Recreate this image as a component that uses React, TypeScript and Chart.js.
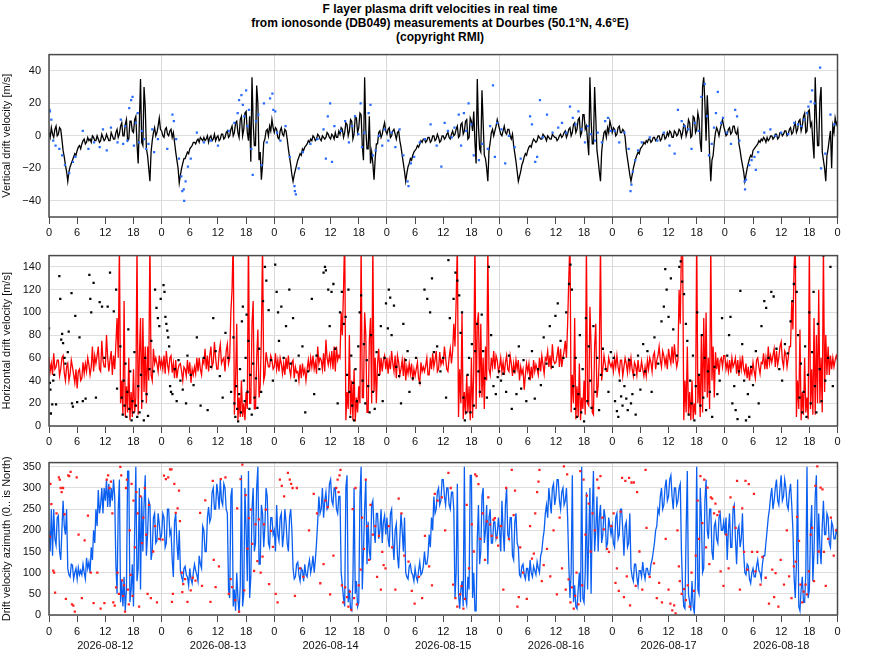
import * as React from 'react';
import {useRef, useEffect} from 'react';
import {Chart, registerables} from 'chart.js';

Chart.register(...registerables);

const DATES = ['2026-08-12', '2026-08-13', '2026-08-14', '2026-08-15', '2026-08-16', '2026-08-17', '2026-08-18'];
// line values are one sample every quarter hour, starting at 00:00 of each day
const STEP_H = 0.25;

const VERT_TICKS = [-40, -20, 0, 20, 40];
const HORIZ_TICKS = [0, 20, 40, 60, 80, 100, 120, 140];
const AZIM_TICKS = [0, 50, 100, 150, 200, 250, 300, 350];

// vertical drift velocity [m/s]
const vertLine12 = [
  2, -1, 5, 1, -1, 4, 6, 0, 1, 5, 4, -2, -9, -13, -18, -22, -28, -22, -19, -17, -15, -13, -11, -12,
  -9, -7, -6, -8, -5, -3, -2, -5, -4, -1, -3, -2, -4, 0, -1, -3, -3, 0, -2, -4, -3, 1, -1, -3,
  -2, 1, -1, -3, -3, 2, 0, -2, -2, 2, 4, -1, 1, 6, 8, 0, 0, 7, 10, -3, -2, 9, 9, 3,
  2, 10, 12, -5, -17, 8, 35, -4, -6, 30, 18, -8, -12, -20, -28, -10, -3, 2, 5, 0, 2, 6, 11, 4,
];
const vertLine13 = [
  3, 0, -1, 4, 5, 1, 0, 3, 4, -1, 2, -4, -10, -15, -20, -29, -24, -20, -17, -14, -14, -12, -10, -11,
  -8, -7, -6, -4, -4, -5, -3, -2, -4, -1, -2, -3, -1, -3, -2, 0, -4, -1, 0, -3, -2, 1, -3, -1,
  0, -3, -2, 1, 1, -2, -1, 2, 3, -1, 0, 4, 6, 0, 2, 8, 9, 2, -1, 10, 12, 0, 4, 14,
  15, 2, -3, 12, -16, 36, 8, -6, -6, 31, 20, -15, -10, -27, -18, -4, -2, 3, 4, 0, 6, 3, 10, 5,
];
const vertLine14 = [
  2, 5, 4, -1, -2, 3, 5, 1, 0, 4, 3, -2, -8, -13, -18, -24, -28, -24, -21, -18, -15, -13, -11, -12,
  -8, -9, -7, -6, -5, -3, -4, -2, -3, 0, -1, -3, -2, 1, 0, -2, -3, 0, -1, -2, -1, 2, 1, -1,
  -2, 1, 0, -2, 2, -1, -1, 3, 1, 5, 4, -1, 2, 8, 7, 0, 3, 10, 9, -2, 1, 12, 11, 2,
  5, 14, 13, -6, -15, 36, 4, -8, -8, 12, -17, -10, -17, -27, -14, -5, -5, 2, 3, -1, 1, 5, 8, 3,
];
const vertLine15 = [
  1, 4, 5, -1, 0, 3, 4, 1, -2, 2, 3, -3, -7, -12, -17, -22, -28, -23, -19, -17, -14, -15, -12, -10,
  -9, -8, -6, -7, -5, -3, -4, -2, -2, -4, -3, -1, -1, -4, -3, 0, 0, -3, -2, 1, -1, -4, -3, 0,
  0, -2, -1, 1, 2, -1, -2, 1, 3, 0, 1, 4, 6, -1, 0, 7, 8, 1, 3, 9, 10, -2, -1, 11,
  9, 3, 15, -4, -17, 35, 6, -8, -10, 28, 8, -12, -14, -20, -28, -9, -4, 2, 4, 0, 3, 6, 10, 7,
];
const vertLine16 = [
  4, 1, 0, 3, 6, 2, 1, 4, 4, 0, -2, 1, -6, -11, -16, -22, -28, -25, -22, -18, -16, -13, -11, -12,
  -9, -7, -6, -7, -4, -2, -3, -4, -3, 0, -1, -2, -2, 1, 0, -1, -3, 0, -1, -2, -2, 1, 0, -1,
  -1, -3, -2, 0, 1, -1, 0, 2, 3, -1, 1, 4, 5, 0, 2, 7, 8, 2, 4, 10, 11, 0, 2, 13,
  13, 4, 6, -3, -12, 36, 10, -5, -5, 30, 11, -9, -15, -22, -28, -10, -3, 2, 3, -1, 5, 2, 9, 6,
];
const vertLine17 = [
  2, 5, 4, 0, 1, 5, 6, 2, 2, 4, 3, -1, -9, -14, -19, -24, -28, -24, -20, -17, -14, -12, -10, -11,
  -8, -7, -6, -4, -5, -3, -4, -2, -2, -4, -3, -1, -1, -3, -2, 0, 0, -3, -2, 1, 1, -2, -1, 2,
  0, 3, 2, -1, -1, 3, 2, 0, 1, 4, 3, -1, 2, 7, 6, 0, 3, 10, 8, -1, 0, 12, 11, 2,
  4, 14, 10, -4, -10, 30, 36, 20, -3, 25, 10, -12, -28, -15, -12, -4, 2, 5, 3, 0, 4, 7, 10, 6,
];
const vertLine18 = [
  3, 0, 1, 4, 5, 1, 2, 6, 6, 2, 1, 4, -5, -9, -14, -18, -22, -28, -24, -20, -17, -14, -12, -13,
  -9, -8, -7, -6, -5, -3, -4, -2, -3, -1, -2, -4, -1, -3, -2, 0, 0, -2, -1, 1, 1, -2, -1, 2,
  2, 0, 1, 3, 3, 0, 1, 4, 5, 1, 2, 6, 8, 2, 4, 9, 10, 3, 6, 12, 14, 2, 3, 15,
  16, 6, 8, -4, -14, 36, 12, -6, -6, 22, 30, -10, -15, -20, -28, -12, -8, -2, 3, -20, 6, 2, 11, 7,
  9,
];

// single measurements [hour of day, value]
const vertDots12 = [[0.1, 16], [0.2, 15], [0.5, 10], [0.9, -3], [1.4, -6], [2.2, -8], [2.8, -12], [3.4, -18], [4.3, -23], [5.1, -16], [5.6, -13], [7.2, 3], [8.4, -8], [9.6, -4], [10.8, -7], [11.5, 4], [12.3, -9], [13.2, 5], [14.6, -4], [15.3, 10], [15.8, -5], [16.2, 6], [16.7, -3], [17.1, 17], [17.5, 22], [17.8, 24], [18.1, -6], [18.5, 8], [18.9, 14], [19.2, -4], [19.8, 3], [20.3, -2], [20.7, -8], [21.2, -5], [22.0, 4], [22.4, -10], [23.2, -2]];
const vertDots13 = [[1.2, -8], [2.3, 13], [2.6, 9], [3.1, -2], [3.7, -14], [4.2, -25], [4.4, -34], [4.7, -33], [4.8, -40], [5.1, -28], [5.6, -19], [6.2, -14], [7.5, 2], [9.0, -4], [10.5, -3], [12.0, -6], [14.3, 3], [15.5, 8], [16.2, 14], [16.5, 22], [17.0, 25], [17.3, 19], [17.6, 12], [18.0, 28], [18.3, 6], [18.6, 16], [19.1, -8], [19.4, -24], [20.1, 9], [20.6, 13], [21.3, -18], [21.8, 20], [22.4, -4], [23.1, 23], [23.6, 26], [23.8, 16]];
const vertDots14 = [[0.2, 15], [0.6, 2], [1.3, -3], [2.4, 6], [3.3, -13], [4.3, -31], [4.4, -34], [4.6, -36], [5.2, -20], [6.1, -10], [7.7, -5], [9.2, -2], [10.5, 4], [11.0, -14], [11.4, 12], [11.9, 20], [12.3, -16], [12.8, 6], [14.2, 3], [15.1, 9], [15.9, -4], [16.6, 6], [17.2, 12], [17.9, 1], [18.4, 20], [18.7, -7], [19.2, 2], [20.1, 14], [20.5, 19], [21.0, -12], [21.6, -9], [22.3, 0], [23.0, -6], [23.5, 4]];
const vertDots15 = [[0.3, -3], [1.0, 2], [1.8, -7], [2.7, 4], [3.5, -12], [4.4, -28], [4.6, -31], [5.1, -17], [5.8, -13], [7.0, -4], [8.1, -2], [9.3, 7], [10.6, -6], [11.6, -19], [12.3, 8], [13.0, 3], [13.8, -1], [14.4, 5], [15.3, 13], [15.8, -6], [16.4, 14], [16.9, 3], [17.4, 20], [18.0, 7], [18.5, -12], [19.6, -15], [20.3, -5], [21.5, -8], [22.0, 6], [22.6, 31], [23.0, -13], [23.5, 8]];
const vertDots16 = [[0.4, 4], [1.2, -17], [2.0, 0], [3.2, -7], [4.5, -14], [6.5, 12], [6.9, 7], [7.6, -16], [8.0, -13], [8.6, 22], [9.2, -1], [10.1, 13], [11.3, 2], [12.5, 5], [13.3, 8], [14.2, 2], [15.0, 18], [15.6, 11], [16.2, 7], [16.8, 15], [17.5, 4], [18.2, -4], [18.8, 6], [19.4, 1], [20.3, -3], [20.9, 2], [21.8, -4], [22.5, 9], [23.1, 11], [23.7, 3]];
const vertDots17 = [[0.5, 3], [1.5, -4], [2.6, 2], [3.5, -8], [3.9, -34], [4.1, -30], [4.4, -22], [4.9, -15], [5.5, -9], [6.3, -4], [8.0, -1], [9.6, -3], [11.0, 2], [12.2, -6], [13.3, -11], [14.0, 16], [14.8, 9], [15.4, 6], [16.2, 4], [16.9, -8], [17.6, 8], [18.4, 3], [19.0, 24], [19.7, 32], [20.2, 12], [20.6, -12], [21.2, -5], [21.7, 5], [22.1, 14], [22.5, 27], [23.2, 8], [23.6, 11]];
const vertDots18 = [[0.4, 2], [1.3, -5], [2.2, 16], [2.6, 12], [3.1, -3], [4.2, -28], [4.3, -33], [4.5, -27], [5.2, -18], [5.7, -15], [6.3, -13], [6.6, -21], [7.1, -10], [8.4, 2], [9.7, 4], [10.8, 0], [12.0, 2], [13.5, 1], [14.8, 8], [15.6, 7], [16.3, 6], [16.9, 10], [17.5, 14], [17.8, 18], [18.3, 21], [18.6, 28], [19.1, 20], [20.3, 42], [20.5, -20], [21.4, -11], [22.5, 13], [23.3, 7]];

// horizontal drift velocity [m/s]
const horizLine12 = [
  60, 48, 55, 45, 64, 50, 52, 58, 58, 44, 50, 60, 62, 47, 40, 52, 55, 40, 46, 58, 52, 45, 38, 50,
  33, 48, 50, 40, 42, 56, 46, 55, 48, 60, 54, 45, 52, 70, 48, 62, 55, 62, 70, 50, 48, 75, 58, 52,
  52, 80, 60, 48, 58, 66, 45, 62, 50, 72, 95, 60, 160, 20, 40, 10, 110, 8, 35, 12, 60, 5, 30, 8,
  50, 12, 25, 160, 10, 60, 95, 15, 95, 30, 70, 20, 70, 40, 165, 45, 40, 68, 55, 60, 55, 48, 62, 52,
];
const horizLine13 = [
  58, 50, 62, 46, 66, 54, 48, 60, 62, 47, 55, 42, 58, 42, 50, 54, 55, 48, 40, 52, 50, 44, 58, 46,
  56, 38, 50, 45, 52, 46, 60, 48, 60, 50, 45, 58, 55, 68, 50, 62, 48, 62, 70, 52, 56, 74, 60, 50,
  50, 65, 72, 55, 58, 60, 48, 66, 72, 55, 60, 100, 120, 165, 10, 40, 90, 5, 25, 8, 40, 8, 20, 5,
  30, 15, 170, 20, 20, 90, 110, 15, 15, 60, 85, 25, 35, 80, 160, 40, 45, 65, 58, 52, 52, 62, 58, 50,
];
const horizLine14 = [
  52, 64, 50, 58, 48, 60, 55, 46, 55, 45, 60, 50, 62, 50, 44, 56, 58, 42, 52, 47, 48, 40, 54, 42,
  55, 46, 50, 40, 50, 58, 48, 60, 52, 62, 50, 56, 46, 70, 55, 60, 58, 50, 64, 48, 76, 60, 54, 62,
  54, 66, 50, 70, 48, 70, 58, 62, 60, 100, 80, 120, 170, 5, 30, 15, 80, 10, 40, 5, 50, 4, 25, 12,
  35, 20, 160, 25, 25, 100, 80, 12, 12, 75, 95, 20, 160, 30, 60, 20, 55, 68, 45, 60, 48, 58, 62, 50,
];
const horizLine15 = [
  60, 46, 58, 50, 66, 55, 48, 62, 42, 62, 56, 45, 50, 58, 44, 60, 40, 52, 46, 55, 46, 55, 40, 50,
  44, 50, 56, 42, 38, 56, 48, 52, 48, 53, 60, 45, 45, 60, 50, 64, 52, 58, 66, 48, 50, 65, 54, 58,
  55, 70, 60, 50, 48, 60, 68, 55, 66, 90, 70, 110, 160, 8, 50, 20, 100, 6, 30, 10, 45, 12, 35, 5,
  60, 7, 50, 165, 15, 90, 100, 25, 90, 25, 60, 15, 70, 40, 160, 50, 45, 60, 52, 66, 50, 62, 58, 48,
];
const horizLine16 = [
  52, 60, 48, 56, 45, 56, 62, 50, 48, 62, 55, 44, 55, 46, 58, 50, 58, 40, 52, 46, 50, 32, 45, 55,
  48, 55, 40, 52, 42, 58, 48, 54, 50, 45, 60, 48, 62, 54, 46, 60, 58, 66, 52, 62, 50, 72, 58, 55,
  56, 62, 70, 52, 68, 52, 60, 66, 75, 60, 90, 130, 165, 12, 45, 20, 95, 6, 35, 8, 55, 5, 25, 15,
  40, 10, 160, 20, 18, 105, 70, 12, 10, 70, 90, 25, 35, 60, 160, 40, 50, 62, 55, 48, 48, 60, 55, 52,
];
const horizLine17 = [
  56, 48, 60, 52, 62, 52, 46, 58, 58, 44, 52, 60, 55, 47, 60, 50, 60, 50, 44, 56, 53, 45, 58, 48,
  48, 57, 50, 44, 52, 44, 58, 50, 60, 56, 48, 62, 65, 50, 58, 62, 70, 58, 52, 66, 62, 54, 60, 50,
  68, 60, 55, 70, 55, 72, 60, 52, 58, 120, 90, 160, 160, 5, 40, 12, 70, 10, 30, 5, 40, 6, 20, 10,
  170, 20, 45, 8, 80, 12, 95, 30, 100, 25, 60, 15, 160, 40, 70, 25, 65, 50, 60, 45, 58, 60, 52, 62,
];
const horizLine18 = [
  62, 50, 56, 48, 58, 47, 60, 52, 55, 60, 46, 58, 44, 58, 50, 62, 50, 46, 55, 42, 52, 40, 50, 46,
  56, 48, 42, 58, 60, 52, 46, 56, 55, 64, 50, 60, 50, 70, 55, 62, 56, 62, 68, 52, 66, 54, 60, 70,
  74, 58, 52, 66, 63, 52, 60, 70, 70, 110, 85, 140, 165, 8, 40, 15, 85, 5, 30, 10, 60, 12, 25, 6,
  160, 15, 50, 10, 95, 10, 80, 20, 120, 20, 60, 12, 160, 30, 80, 45, 70, 45, 62, 50, 60, 52, 58, 62,
  58,
];

const horizDots12 = [[0.0, 86], [0.2, 38], [0.3, 32], [0.4, 11], [0.7, 19], [0.9, 40], [1.1, 45], [1.5, 19], [2.2, 132], [2.4, 112], [2.6, 76], [2.8, 81], [3.0, 73], [3.3, 60], [3.5, 55], [4.0, 65], [4.2, 83], [4.8, 117], [4.9, 20], [5.1, 17], [5.6, 97], [6.0, 21], [6.5, 78], [7.2, 22], [7.8, 24], [8.6, 133], [8.8, 112], [9.0, 100], [9.5, 126], [10.0, 25], [10.8, 109], [11.3, 105], [11.8, 60], [12.5, 105], [13.0, 135], [13.8, 101], [14.3, 120], [14.5, 33], [15.2, 70], [15.5, 25], [15.7, 10], [15.9, 40], [16.1, 18], [16.3, 55], [16.5, 8], [16.7, 30], [16.9, 85], [17.1, 15], [17.3, 48], [17.6, 5], [17.8, 22], [18.0, 12], [18.2, 65], [18.5, 18], [18.8, 8], [19.0, 35], [19.3, 12], [19.6, 45], [19.9, 22], [20.2, 5], [20.5, 60], [20.8, 28], [21.1, 9], [21.4, 50], [21.8, 75], [22.3, 48], [22.6, 120], [22.9, 104], [23.2, 95], [23.5, 88], [23.8, 112]];
const horizDots13 = [[0.4, 124], [0.6, 118], [0.8, 96], [1.0, 90], [1.2, 84], [1.4, 78], [1.6, 70], [1.8, 35], [2.0, 30], [2.3, 28], [2.8, 50], [3.2, 22], [3.6, 58], [4.0, 40], [4.5, 32], [5.2, 20], [5.5, 62], [6.2, 45], [6.8, 36], [7.5, 78], [8.3, 18], [9.0, 60], [9.8, 14], [10.5, 52], [11.0, 95], [11.5, 66], [12.4, 44], [13.0, 25], [13.6, 82], [14.2, 60], [14.8, 30], [15.3, 78], [15.5, 20], [15.7, 8], [15.9, 35], [16.1, 15], [16.3, 4], [16.5, 28], [16.7, 50], [16.9, 12], [17.1, 92], [17.3, 105], [17.5, 40], [17.7, 22], [17.9, 60], [18.1, 98], [18.3, 30], [18.5, 75], [18.7, 15], [18.9, 45], [19.2, 10], [19.5, 55], [19.8, 25], [20.1, 42], [20.4, 16], [20.8, 68], [21.2, 30], [21.6, 110], [22.0, 140], [22.3, 128], [22.8, 102], [23.3, 58], [23.7, 40]];
const horizDots14 = [[0.2, 142], [0.5, 118], [0.8, 100], [1.0, 75], [1.5, 105], [2.0, 60], [2.5, 88], [3.2, 120], [3.5, 55], [4.0, 95], [4.6, 40], [5.2, 62], [6.0, 70], [6.6, 12], [7.2, 48], [8.0, 112], [8.5, 28], [9.0, 62], [9.6, 50], [10.5, 135], [10.8, 140], [11.0, 137], [11.5, 120], [11.8, 88], [12.2, 118], [12.6, 125], [13.0, 68], [13.5, 20], [14.0, 100], [14.4, 118], [14.8, 90], [15.2, 96], [15.5, 45], [15.8, 120], [16.0, 30], [16.2, 8], [16.4, 62], [16.6, 18], [16.8, 38], [17.0, 5], [17.3, 50], [17.6, 22], [17.9, 70], [18.2, 100], [18.5, 115], [18.8, 40], [19.1, 72], [19.4, 20], [19.7, 58], [20.0, 35], [20.3, 12], [20.6, 80], [21.0, 30], [21.4, 15], [21.8, 65], [22.3, 45], [22.7, 88], [23.1, 22], [23.5, 60], [23.8, 108]];
const horizDots15 = [[0.2, 86], [0.4, 120], [0.7, 113], [1.0, 80], [1.5, 106], [2.0, 52], [2.6, 44], [3.0, 20], [3.5, 90], [4.0, 58], [4.4, 66], [4.8, 30], [5.5, 42], [6.2, 60], [7.0, 38], [8.0, 120], [8.6, 112], [9.2, 100], [9.6, 130], [10.0, 65], [10.7, 70], [11.4, 48], [12.0, 60], [12.6, 25], [13.1, 146], [13.4, 95], [14.2, 112], [14.6, 135], [15.0, 128], [15.4, 115], [15.7, 82], [16.0, 100], [16.3, 25], [16.6, 5], [16.9, 12], [17.2, 45], [17.5, 60], [17.8, 12], [18.1, 72], [18.5, 18], [18.8, 66], [19.2, 90], [19.5, 48], [19.8, 30], [20.2, 98], [20.5, 66], [20.9, 42], [21.3, 25], [21.7, 140], [22.2, 80], [22.7, 35], [23.2, 28], [23.6, 43], [23.9, 48]];
const horizDots16 = [[0.3, 40], [0.8, 46], [1.4, 30], [2.0, 62], [2.6, 15], [3.1, 48], [3.6, 28], [4.1, 70], [4.6, 33], [5.1, 58], [5.7, 22], [6.3, 42], [6.9, 66], [7.5, 24], [8.2, 50], [8.8, 36], [9.4, 78], [10.0, 55], [10.7, 88], [11.3, 52], [11.9, 97], [12.4, 108], [13.0, 75], [13.6, 60], [14.2, 100], [14.8, 125], [15.1, 142], [15.4, 120], [15.7, 35], [16.0, 15], [16.2, 60], [16.5, 8], [16.8, 28], [17.1, 80], [17.4, 12], [17.7, 50], [18.0, 4], [18.4, 95], [18.7, 22], [19.0, 70], [19.3, 40], [19.6, 16], [20.0, 88], [20.4, 30], [20.8, 60], [21.2, 14], [21.6, 45], [22.0, 68], [22.6, 50], [23.2, 30], [23.7, 65]];
const horizDots17 = [[0.3, 60], [0.6, 22], [1.0, 13], [1.3, 8], [1.6, 40], [1.9, 26], [2.2, 18], [2.6, 35], [3.0, 24], [3.3, 14], [3.6, 58], [4.0, 20], [4.3, 28], [4.7, 45], [5.0, 10], [5.5, 62], [6.0, 32], [6.6, 72], [7.0, 48], [7.5, 66], [8.4, 30], [9.0, 78], [9.8, 55], [10.5, 92], [11.0, 105], [11.3, 138], [11.6, 120], [12.0, 96], [12.5, 130], [13.0, 85], [13.8, 62], [14.3, 140], [14.6, 145], [14.9, 127], [15.3, 116], [15.7, 90], [16.0, 75], [16.3, 10], [16.6, 40], [16.9, 20], [17.2, 62], [17.5, 5], [17.8, 35], [18.1, 100], [18.5, 45], [18.8, 18], [19.1, 80], [19.4, 25], [19.7, 60], [20.0, 14], [20.4, 48], [20.8, 30], [21.3, 8], [21.8, 52], [22.4, 28], [22.9, 40], [23.4, 95]];
const horizDots18 = [[0.5, 62], [0.9, 80], [1.2, 96], [1.6, 20], [2.0, 35], [2.3, 14], [2.7, 6], [3.0, 48], [3.3, 119], [3.7, 72], [4.1, 40], [4.5, 5], [4.9, 28], [5.2, 8], [5.6, 52], [6.0, 36], [6.6, 66], [7.2, 20], [7.8, 88], [8.4, 110], [8.8, 104], [9.3, 60], [9.9, 118], [10.4, 114], [11.0, 68], [11.6, 50], [12.2, 40], [12.8, 72], [13.4, 64], [14.0, 92], [14.4, 110], [14.7, 125], [15.0, 140], [15.3, 118], [15.6, 80], [15.9, 25], [16.2, 55], [16.5, 12], [16.8, 30], [17.1, 70], [17.4, 8], [17.7, 45], [18.0, 100], [18.3, 20], [18.6, 65], [18.9, 118], [19.2, 35], [19.5, 12], [19.8, 90], [20.2, 50], [20.6, 22], [21.0, 150], [21.4, 40], [22.0, 60], [22.5, 140], [23.0, 35]];

// drift velocity azimuth [deg]
const azimLine12 = [
  200, 150, 250, 140, 250, 180, 165, 230, 235, 150, 130, 200, 270, 210, 190, 250, 110, 95, 90, 120, 118, 85, 100, 110,
  85, 112, 95, 105, 95, 120, 100, 85, 135, 110, 125, 100, 160, 130, 200, 170, 250, 210, 295, 240, 260, 300, 240, 300,
  270, 320, 255, 310, 255, 300, 270, 320, 280, 120, 50, 250, 320, 30, 80, 20, 90, 10, 60, 340, 340, 30, 60, 120,
  20, 200, 350, 80, 110, 300, 60, 280, 150, 260, 330, 140, 190, 270, 260, 130, 150, 230, 240, 170, 175, 240, 215, 180,
];
const azimLine13 = [
  190, 240, 230, 160, 170, 250, 250, 190, 200, 130, 90, 220, 240, 170, 130, 200, 105, 90, 80, 110, 115, 95, 90, 70,
  110, 85, 75, 100, 120, 105, 95, 80, 140, 120, 110, 210, 200, 150, 150, 230, 255, 220, 230, 290, 300, 250, 250, 310,
  285, 250, 320, 270, 260, 310, 300, 250, 240, 60, 40, 280, 300, 20, 60, 10, 100, 40, 5, 70, 330, 20, 50, 300,
  200, 80, 340, 40, 90, 250, 300, 150, 170, 300, 350, 120, 120, 260, 240, 160, 210, 300, 280, 170, 160, 230, 230, 190,
];
const azimLine14 = [
  200, 150, 260, 190, 175, 230, 240, 160, 190, 250, 220, 170, 150, 230, 250, 200, 110, 85, 90, 120, 125, 95, 80, 110,
  105, 80, 120, 95, 90, 115, 130, 100, 115, 140, 100, 130, 170, 220, 280, 240, 250, 300, 230, 270, 290, 250, 255, 310,
  320, 270, 260, 300, 300, 250, 240, 280, 280, 100, 70, 40, 20, 300, 330, 30, 60, 15, 10, 80, 300, 50, 80, 20,
  30, 280, 350, 60, 150, 250, 320, 120, 220, 150, 130, 260, 270, 200, 170, 240, 240, 180, 200, 250, 170, 220, 235, 190,
];
const azimLine15 = [
  230, 180, 160, 240, 250, 170, 130, 200, 215, 140, 110, 180, 240, 200, 150, 230, 100, 90, 85, 115, 120, 100, 95, 80,
  110, 90, 80, 105, 125, 95, 100, 115, 150, 120, 120, 140, 190, 160, 230, 200, 280, 240, 250, 290, 300, 260, 270, 320,
  320, 280, 260, 300, 300, 260, 250, 290, 290, 250, 40, 100, 310, 50, 15, 60, 80, 20, 350, 40, 25, 90, 60, 330,
  330, 40, 100, 10, 10, 180, 260, 120, 150, 280, 300, 170, 200, 260, 120, 230, 250, 170, 170, 220, 220, 180, 190, 230,
];
const azimLine16 = [
  200, 150, 270, 200, 150, 260, 300, 190, 180, 230, 230, 140, 130, 220, 240, 170, 160, 95, 90, 115, 120, 95, 85, 110,
  110, 80, 130, 100, 90, 115, 105, 95, 125, 110, 100, 140, 150, 180, 200, 240, 260, 230, 300, 270, 240, 300, 310, 260,
  280, 320, 320, 270, 250, 290, 300, 260, 270, 300, 230, 120, 40, 100, 330, 30, 70, 20, 15, 60, 100, 30, 350, 40,
  30, 100, 290, 60, 180, 300, 50, 240, 340, 150, 200, 280, 150, 230, 260, 170, 190, 250, 230, 160, 170, 230, 210, 190,
];
const azimLine17 = [
  210, 170, 160, 230, 240, 180, 190, 250, 250, 200, 140, 210, 220, 160, 170, 240, 110, 90, 80, 120, 120, 90, 70, 105,
  105, 90, 125, 100, 85, 110, 110, 95, 95, 120, 130, 150, 170, 200, 210, 250, 240, 280, 300, 250, 260, 300, 320, 270,
  280, 320, 330, 280, 250, 300, 300, 260, 270, 300, 310, 150, 60, 20, 15, 200, 340, 50, 30, 10, 80, 20, 5, 90,
  350, 60, 50, 300, 230, 100, 110, 270, 320, 200, 180, 250, 250, 150, 130, 210, 220, 180, 170, 230, 240, 200, 200, 220,
];
const azimLine18 = [
  190, 230, 130, 200, 240, 160, 160, 250, 260, 180, 120, 200, 210, 160, 180, 240, 150, 100, 95, 120, 115, 85, 75, 100,
  110, 90, 90, 115, 130, 105, 100, 85, 120, 140, 140, 170, 200, 230, 250, 280, 300, 250, 270, 300, 320, 270, 260, 300,
  330, 270, 280, 320, 300, 260, 250, 290, 310, 260, 200, 90, 40, 120, 320, 20, 10, 60, 90, 30, 30, 100, 350, 40,
  60, 200, 260, 80, 150, 280, 330, 120, 240, 160, 120, 210, 270, 190, 190, 240, 230, 170, 160, 220, 210, 180, 180, 200,
  190,
];

const azimDots12 = [[0.2, 185], [0.3, 310], [0.5, 262], [0.9, 105], [1.1, 100], [1.3, 53], [1.6, 240], [2.1, 325], [2.3, 320], [2.5, 300], [2.7, 290], [3.0, 300], [3.3, 238], [3.6, 38], [4.1, 330], [4.3, 328], [4.6, 338], [4.9, 25], [5.2, 22], [5.5, 8], [5.9, 325], [6.3, 190], [7.0, 40], [7.6, 176], [8.3, 235], [8.9, 100], [9.5, 28], [10.3, 100], [11.0, 15], [11.8, 28], [12.3, 320], [12.6, 330], [12.9, 300], [13.2, 315], [13.5, 240], [13.7, 30], [14.0, 22], [14.3, 65], [14.6, 100], [14.9, 50], [15.2, 350], [15.4, 330], [15.6, 82], [15.8, 45], [16.0, 70], [16.2, 8], [16.4, 300], [16.6, 320], [16.8, 60], [17.0, 25], [17.2, 200], [17.4, 95], [17.6, 310], [17.8, 45], [18.0, 270], [18.3, 160], [18.6, 290], [18.9, 240], [19.2, 20], [19.5, 280], [19.8, 170], [20.1, 230], [20.4, 300], [20.7, 190], [21.0, 50], [21.3, 260], [21.7, 40], [22.2, 150], [22.6, 210], [23.0, 30], [23.5, 180]];
const azimDots13 = [[0.2, 178], [0.5, 329], [0.9, 321], [1.4, 325], [1.8, 344], [2.1, 344], [2.2, 31], [2.4, 50], [2.7, 310], [3.0, 241], [3.4, 252], [3.7, 294], [3.9, 222], [4.3, 100], [4.4, 54], [4.6, 73], [5.0, 85], [5.5, 31], [6.2, 58], [6.6, 88], [7.2, 81], [8.2, 241], [8.6, 69], [9.3, 271], [10.4, 31], [10.9, 317], [11.1, 130], [11.5, 66], [12.2, 115], [12.6, 321], [13.6, 325], [14.3, 50], [14.7, 85], [15.0, 66], [15.7, 35], [16.1, 252], [16.5, 8], [16.8, 321], [17.2, 355], [17.6, 58], [17.9, 283], [18.3, 157], [18.6, 229], [19.0, 249], [19.3, 168], [19.7, 104], [20.0, 214], [20.4, 127], [20.7, 226], [21.1, 100], [21.5, 138], [21.8, 214], [22.2, 249], [22.9, 73], [23.3, 199], [23.7, 161]];
const azimDots14 = [[0.3, 50], [0.7, 30], [1.2, 320], [1.6, 305], [2.1, 280], [2.9, 336], [3.3, 320], [3.6, 310], [3.9, 300], [4.4, 45], [4.8, 300], [5.5, 110], [6.2, 90], [7.4, 200], [8.4, 286], [9.1, 240], [9.8, 75], [10.5, 120], [10.9, 270], [11.4, 255], [11.9, 49], [12.6, 140], [13.2, 300], [13.5, 320], [13.7, 290], [13.9, 330], [14.1, 343], [14.4, 70], [14.7, 30], [15.1, 65], [15.5, 42], [15.8, 20], [16.1, 55], [16.4, 12], [16.7, 250], [17.0, 40], [17.3, 300], [17.6, 25], [18.0, 70], [18.4, 107], [18.7, 230], [19.1, 156], [19.5, 320], [19.8, 210], [20.2, 130], [20.5, 260], [21.0, 190], [21.5, 210], [21.9, 90], [22.3, 187], [22.7, 60], [23.0, 149], [23.3, 118], [23.7, 110]];
const azimDots15 = [[0.4, 210], [1.1, 160], [1.8, 60], [2.5, 275], [3.1, 240], [3.7, 140], [4.6, 126], [5.3, 57], [5.9, 27], [6.8, 90], [7.5, 40], [8.1, 187], [9.0, 115], [9.6, 70], [10.2, 286], [10.8, 270], [11.7, 278], [12.4, 200], [13.1, 336], [13.6, 300], [14.1, 72], [14.6, 40], [15.0, 20], [15.6, 49], [15.9, 68], [16.3, 15], [16.6, 38], [17.0, 260], [17.5, 110], [18.1, 214], [18.5, 150], [18.8, 332], [19.1, 328], [19.5, 309], [19.9, 180], [20.4, 240], [20.9, 130], [21.3, 221], [21.6, 278], [22.0, 214], [22.3, 187], [22.7, 225], [23.0, 229], [23.4, 183], [23.7, 164]];
const azimDots16 = [[0.3, 210], [0.8, 60], [1.4, 300], [2.0, 180], [2.6, 343], [3.0, 236], [3.3, 294], [3.8, 20], [4.1, 42], [4.4, 160], [5.0, 100], [5.8, 38], [6.5, 210], [6.9, 133], [7.3, 145], [7.6, 240], [8.0, 290], [8.3, 315], [8.5, 343], [9.0, 80], [9.4, 118], [10.1, 156], [10.8, 91], [11.5, 200], [12.2, 49], [12.8, 230], [13.3, 110], [13.7, 351], [14.1, 60], [14.4, 332], [14.7, 84], [15.1, 30], [15.4, 65], [15.8, 15], [16.1, 45], [16.4, 100], [16.8, 25], [17.2, 340], [17.6, 70], [17.9, 320], [18.3, 190], [18.6, 282], [19.0, 263], [19.4, 150], [19.8, 240], [20.3, 200], [20.8, 320], [21.1, 300], [21.5, 328], [21.9, 230], [22.2, 202], [22.9, 156], [23.3, 149], [23.8, 210]];
const azimDots17 = [[0.3, 240], [0.7, 76], [1.0, 110], [1.4, 57], [1.8, 244], [2.1, 324], [2.5, 42], [2.8, 317], [3.1, 91], [3.6, 324], [3.8, 23], [4.1, 313], [4.6, 313], [5.0, 69], [5.3, 290], [5.8, 150], [6.4, 60], [7.1, 343], [7.3, 206], [8.0, 90], [8.9, 122], [9.5, 40], [10.0, 76], [10.6, 30], [11.4, 180], [12.0, 60], [12.4, 27], [12.8, 11], [13.2, 23], [13.5, 4], [13.9, 200], [14.2, 115], [14.4, 80], [14.8, 50], [15.3, 61], [15.7, 35], [16.1, 70], [16.5, 20], [16.9, 100], [17.4, 57], [17.8, 140], [18.2, 270], [18.5, 180], [18.8, 328], [19.2, 217], [19.6, 320], [20.0, 160], [20.3, 301], [20.7, 120], [21.0, 278], [21.3, 275], [21.7, 240], [22.0, 263], [22.4, 236], [22.8, 244], [23.1, 103], [23.7, 69]];
const azimDots18 = [[0.3, 190], [0.8, 110], [1.2, 278], [1.9, 255], [2.3, 206], [2.6, 317], [3.2, 60], [3.7, 252], [4.1, 149], [4.4, 317], [4.8, 107], [5.1, 309], [5.8, 149], [6.2, 286], [6.5, 103], [6.9, 149], [7.6, 72], [8.0, 137], [8.7, 88], [9.4, 27], [10.1, 107], [10.5, 42], [10.8, 99], [11.4, 20], [11.9, 130], [12.6, 72], [13.2, 200], [13.7, 91], [14.2, 40], [14.7, 115], [15.1, 126], [15.4, 232], [15.8, 175], [16.1, 72], [16.5, 30], [16.8, 55], [17.2, 72], [17.5, 49], [17.9, 103], [18.3, 190], [18.6, 206], [19.0, 80], [19.3, 305], [19.7, 351], [20.0, 150], [20.4, 301], [20.8, 297], [21.1, 149], [21.5, 69], [22.0, 180], [22.6, 230], [23.2, 140], [23.7, 200]];

const FONT = '"Liberation Sans", Arial, Helvetica, sans-serif';

function toLine(days: number[][]) {
  return days.flatMap((vals, d) => vals.map((v, i) => ({x: d * 24 + i * STEP_H, y: v})));
}

function toDots(days: number[][][]) {
  return days.flatMap((pts, d) => pts.map(([h, v]) => ({x: d * 24 + h, y: v})));
}

const framePlugin = {
  id: 'frame',
  afterDraw(chart: any) {
    const {ctx, chartArea: a} = chart;
    ctx.save();
    ctx.strokeStyle = '#4a4a4a';
    ctx.lineWidth = 1.5;
    ctx.strokeRect(a.left, a.top, a.right - a.left, a.bottom - a.top);
    ctx.restore();
  },
};

interface PanelProps {
  top: number,
  height: number,
  padTop: number,
  axisHeight: number,
  line: Array<{x: number, y: number}>,
  dots: Array<{x: number, y: number}>,
  lineColor: string,
  dotColor: string,
  yMin: number,
  yMax: number,
  yTicks: number[],
  yTitle: string,
  showDates?: boolean,
}

function DriftPanel(props: PanelProps): JSX.Element {
  const canvasRef = useRef<HTMLCanvasElement>(null);

  useEffect(() => {
    if (!canvasRef.current) return;
    const p = props;
    const chart = new Chart(canvasRef.current, {
      type: 'scatter',
      data: {
        datasets: [
          {
            data: p.dots,
            showLine: false,
            pointStyle: 'rect',
            pointRadius: 1.6,
            pointBorderWidth: 0,
            backgroundColor: p.dotColor,
            borderColor: p.dotColor,
          },
          {
            data: p.line,
            showLine: true,
            borderColor: p.lineColor,
            borderWidth: 1.3,
            pointRadius: 0,
            tension: 0,
          },
        ],
      } as any,
      options: {
        animation: false,
        responsive: false,
        events: [],
        layout: {padding: {top: p.padTop, right: 48.5, left: 0, bottom: 0}},
        plugins: {legend: {display: false}, tooltip: {enabled: false}},
        scales: {
          x: {
            type: 'linear',
            min: 0,
            max: 168,
            afterFit: (s: any) => { s.height = p.axisHeight; },
            border: {display: false},
            grid: {
              color: (c: any) => (c.tick && c.tick.value % 24 === 0 ? '#d8d8d8' : 'rgba(0,0,0,0)'),
              tickColor: '#4a4a4a',
              tickLength: 7,
              lineWidth: 1,
            },
            ticks: {
              stepSize: 6,
              autoSkip: false,
              maxRotation: 0,
              padding: 3,
              color: '#111',
              font: {family: FONT, size: 11, lineHeight: p.showDates ? 1.3 : 1.1},
              callback: (v: any) => {
                const h = Number(v) % 24;
                if (p.showDates && h === 12) return [String(h), DATES[Math.floor(Number(v) / 24)]];
                return String(h);
              },
            },
          },
          y: {
            min: p.yMin,
            max: p.yMax,
            afterFit: (s: any) => { s.width = 49; },
            afterBuildTicks: (s: any) => { s.ticks = p.yTicks.map((v) => ({value: v})); },
            border: {display: false},
            grid: {color: '#dedede', lineWidth: 1, drawTicks: false},
            ticks: {
              padding: 8,
              color: '#111',
              font: {family: FONT, size: 11},
              callback: (v: any) => String(v).replace('-', '\u2212'),
            },
            title: {
              display: true,
              text: p.yTitle,
              color: '#111',
              padding: {top: 0, bottom: 0},
              font: {family: FONT, size: 11},
            },
          },
        },
      } as any,
      plugins: [framePlugin],
    });
    return () => {
      chart.destroy();
    };
  }, []);

  return (
    <canvas
      ref={canvasRef}
      width={886}
      height={props.height}
      style={{position: 'absolute', left: 0, top: props.top, width: 886, height: props.height}}
    />
  );
}

const titleStyle: React.CSSProperties = {
  position: 'absolute',
  left: 0,
  width: 880,
  textAlign: 'center',
  font: `bold 12px ${FONT}`,
  lineHeight: '12px',
  color: '#000',
};

export default function App(): JSX.Element {
  const vertLine = toLine([vertLine12, vertLine13, vertLine14, vertLine15, vertLine16, vertLine17, vertLine18]);
  const vertDots = toDots([vertDots12, vertDots13, vertDots14, vertDots15, vertDots16, vertDots17, vertDots18]);
  const horizLine = toLine([horizLine12, horizLine13, horizLine14, horizLine15, horizLine16, horizLine17, horizLine18]);
  const horizDots = toDots([horizDots12, horizDots13, horizDots14, horizDots15, horizDots16, horizDots17, horizDots18]);
  const azimLine = toLine([azimLine12, azimLine13, azimLine14, azimLine15, azimLine16, azimLine17, azimLine18]);
  const azimDots = toDots([azimDots12, azimDots13, azimDots14, azimDots15, azimDots16, azimDots17, azimDots18]);

  return (
    <div style={{position: 'absolute', left: 0, top: 0, width: 886, height: 664, background: '#fff', overflow: 'hidden'}}>
      <div style={{...titleStyle, top: 3}}>F layer plasma drift velocities in real time</div>
      <div style={{...titleStyle, top: 17}}>from ionosonde (DB049) measurements at Dourbes (50.1°N, 4.6°E)</div>
      <div style={{...titleStyle, top: 31}}>(copyright RMI)</div>
      <DriftPanel top={40} height={207} padTop={9} axisHeight={30}
        line={vertLine} dots={vertDots} lineColor="#000000" dotColor="#2a6cff"
        yMin={-50} yMax={50} yTicks={VERT_TICKS} yTitle="Vertical drift velocity [m/s]" />
      <DriftPanel top={241} height={215} padTop={9} axisHeight={30}
        line={horizLine} dots={horizDots} lineColor="#ff0000" dotColor="#000000"
        yMin={0} yMax={150} yTicks={HORIZ_TICKS} yTitle="Horizontal drift velocity [m/s]" />
      <DriftPanel top={448} height={211} padTop={9.5} axisHeight={44}
        line={azimLine} dots={azimDots} lineColor="#0a5ff0" dotColor="#ff2020"
        yMin={0} yMax={360} yTicks={AZIM_TICKS} yTitle="Drift velocity azimuth (0.. is North)" showDates />
    </div>
  );
}
